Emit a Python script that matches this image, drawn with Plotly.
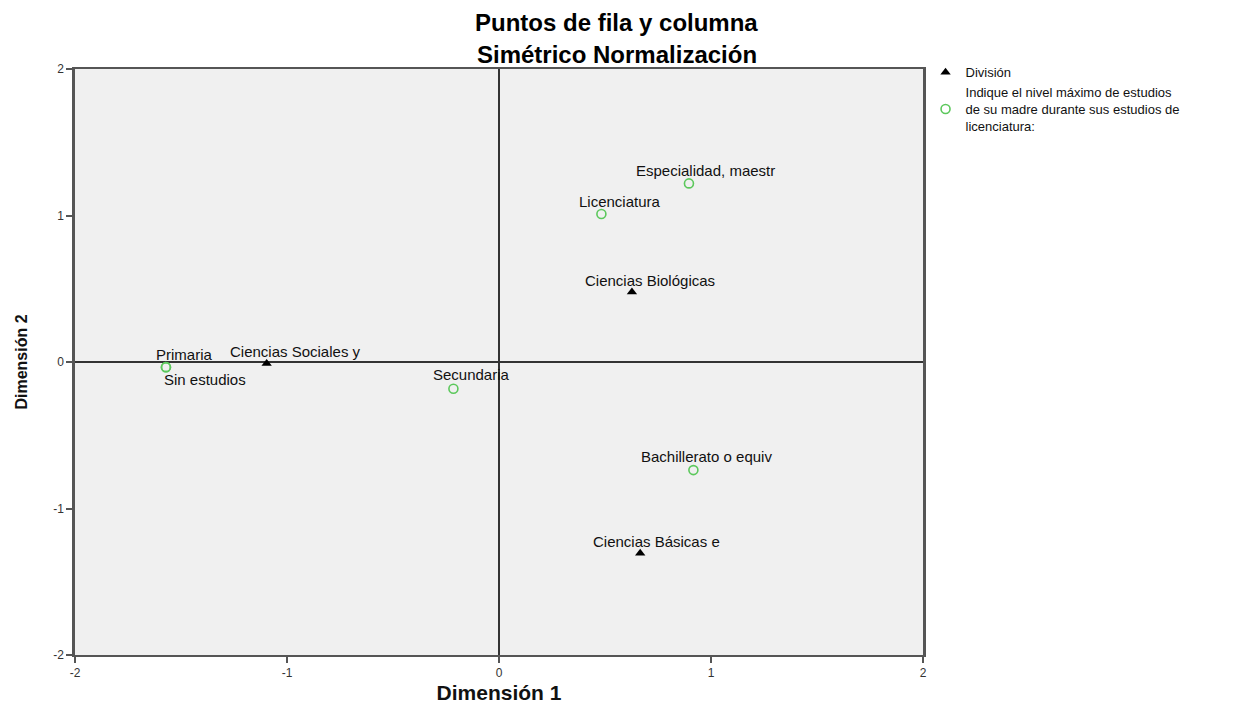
import plotly.graph_objects as go

# Row points (División)
div_labels = ["Ciencias Biológicas", "Ciencias Sociales y", "Ciencias Básicas e"]
div_x = [0.627, -1.096, 0.666]
div_y = [0.477, -0.01, -1.305]

# Column points (nivel de estudios de la madre)
mad_labels = ["Especialidad, maestr", "Licenciatura", "Primaria", "Sin estudios", "Secundaria", "Bachillerato o equiv"]
mad_x = [0.896, 0.483, -1.571, -1.571, -0.215, 0.917]
mad_y = [1.219, 1.010, -0.035, -0.035, -0.183, -0.738]

x_ticks = [-2, -1, 0, 1, 2]
y_ticks = [-2, -1, 0, 1, 2]

# label offsets in pixels (style)
div_shift = [(18, 12), (29, 12), (16, 12)]
mad_shift = [(17, 13), (19, 13), (18, 13), (39, -12), (18, 14), (13, 14)]

BASE = "Liberation Sans, Arial, sans-serif"
LABEL_FONT = dict(family=BASE, size=15, color="#111111")

fig = go.Figure()
fig.add_trace(go.Scatter(
    x=div_x, y=div_y, mode="markers", name="División",
    marker=dict(symbol="triangle-up", size=9, color="#000000"),
    hoverinfo="text", text=div_labels,
))
fig.add_trace(go.Scatter(
    x=mad_x, y=mad_y, mode="markers",
    name="Indique el nivel máximo de estudios<br>de su madre durante sus estudios de<br>licenciatura:",
    marker=dict(symbol="circle-open", size=9, color="#5CC85C", line=dict(width=1.6, color="#5CC85C")),
    hoverinfo="text", text=mad_labels,
))

annotations = []
for lab, x, y, (dx, dy) in zip(div_labels, div_x, div_y, div_shift):
    annotations.append(dict(x=x, y=y, xref="x", yref="y", text=lab, showarrow=False,
                            xshift=dx, yshift=dy, font=LABEL_FONT))
for lab, x, y, (dx, dy) in zip(mad_labels, mad_x, mad_y, mad_shift):
    annotations.append(dict(x=x, y=y, xref="x", yref="y", text=lab, showarrow=False,
                            xshift=dx, yshift=dy, font=LABEL_FONT))

TITLE_FONT = dict(family=BASE, size=24, color="#000000")
annotations.append(dict(x=0.639, y=1.0785, xref="paper", yref="paper", text="<b>Puntos de fila y columna</b>",
                        showarrow=False, xanchor="center", yanchor="middle", font=TITLE_FONT))
annotations.append(dict(x=0.639, y=1.0239, xref="paper", yref="paper", text="<b>Simétrico Normalización</b>",
                        showarrow=False, xanchor="center", yanchor="middle", font=TITLE_FONT))

fig.update_layout(
    width=1240, height=696,
    margin=dict(l=67, r=325, t=61, b=49),
    paper_bgcolor="#FFFFFF",
    plot_bgcolor="#F0F0F0",
    annotations=annotations,
    showlegend=True,
    legend=dict(
        x=1.003, y=1.02, xanchor="left", yanchor="top",
        font=dict(family=BASE, size=13, color="#111111"),
        bgcolor="rgba(0,0,0,0)", tracegroupgap=0, itemwidth=30,
    ),
    xaxis=dict(
        range=[-2, 2], tickvals=x_ticks, ticktext=[str(v) for v in x_ticks],
        showgrid=False, zeroline=True, zerolinecolor="#333333", zerolinewidth=1.5,
        showline=True, mirror=True, linecolor="#555555", linewidth=2,
        ticks="outside", ticklen=6, tickcolor="#555555", tickwidth=1.5,
        tickfont=dict(family=BASE, size=12, color="#333333"),
        title=dict(text="<b>Dimensión 1</b>", standoff=12,
                   font=dict(family=BASE, size=21, color="#111111")),
        automargin=False,
    ),
    yaxis=dict(
        range=[-2, 2], tickvals=y_ticks, ticktext=[str(v) for v in y_ticks],
        showgrid=False, zeroline=True, zerolinecolor="#333333", zerolinewidth=1.5,
        showline=True, mirror=True, linecolor="#555555", linewidth=2.5,
        ticks="outside", ticklen=6, tickcolor="#555555", tickwidth=1.5,
        tickfont=dict(family=BASE, size=12, color="#333333"),
        title=dict(text="<b>Dimensión 2</b>", standoff=22,
                   font=dict(family=BASE, size=16, color="#111111")),
        automargin=False,
    ),
)

fig.write_html("out.html")
